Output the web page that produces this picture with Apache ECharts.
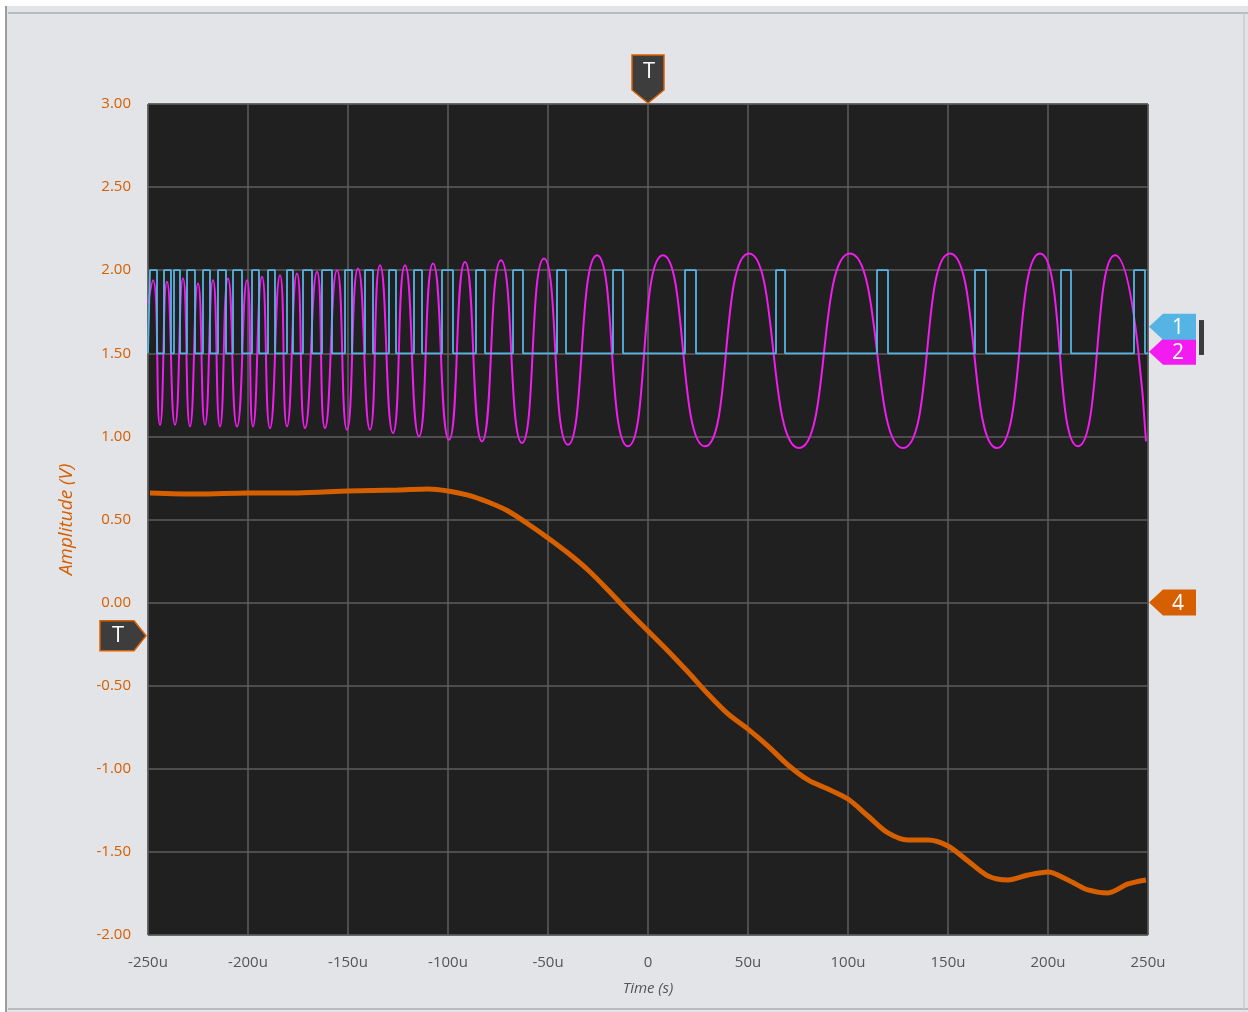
<!DOCTYPE html>
<html>
<head>
<meta charset="utf-8">
<script src="https://cdn.jsdelivr.net/npm/echarts@6/dist/echarts.min.js"></script>
<style>
html,body{margin:0;padding:0;background:#ffffff;}
#c{width:1248px;height:1012px;}
</style>
</head>
<body>
<div id="c"></div>
<script>
// ---- axis ticks ----
var xTicks = [-250, -200, -150, -100, -50, 0, 50, 100, 150, 200, 250];   // microseconds
var yTicks = [-2.0, -1.5, -1.0, -0.5, 0.0, 0.5, 1.0, 1.5, 2.0, 2.5, 3.0];

// ---- Channel 1 (cyan, digital): high pulses [start, end] in µs ----
var ch1Low = 1.5, ch1High = 2.0;
var ch1PulseStart = [-249, -242, -237, -230.5, -222.5, -215, -207.5, -198, -190, -180.5, -172.5, -163, -151.5, -141.5, -129.5, -117, -103, -86, -67.5, -45.5, -17.5, 18.5, 64, 114.5, 163.5, 206.5, 243];
var ch1PulseEnd   = [-245.5, -238.5, -234, -226.5, -219, -211, -203, -194.5, -186.5, -177.5, -168, -158, -148, -137.5, -126, -113, -97.5, -81.5, -62.5, -41, -12.5, 24, 68.5, 120, 169, 211.5, 248.5];

// ---- Channel 2 (magenta, chirp): extrema ----
var ch2PeakT = [-247.5, -240.5, -232.5, -225, -217.5, -210, -200.5, -193, -184, -175.5, -165.5, -155.5, -145, -134, -121.5, -107.5, -91.5, -73.5, -52, -25.5, 7.5, 50.5, 101, 151, 196, 233.5];
var ch2PeakV = [1.94, 1.93, 1.95, 1.92, 1.94, 1.95, 1.94, 1.96, 1.97, 1.98, 1.99, 2.00, 2.01, 2.03, 2.03, 2.04, 2.05, 2.06, 2.07, 2.09, 2.09, 2.10, 2.10, 2.10, 2.10, 2.09];
var ch2TroughT = [-244, -236.5, -229, -221.5, -214, -205.5, -197.5, -189, -180.5, -171.5, -161.5, -150.5, -139, -127.5, -114.5, -99.5, -83, -63, -40, -10, 28.5, 75.5, 127.5, 174.5, 215];
var ch2TroughV = [1.07, 1.07, 1.06, 1.07, 1.06, 1.06, 1.06, 1.05, 1.06, 1.05, 1.05, 1.04, 1.04, 1.02, 1.00, 0.98, 0.97, 0.96, 0.95, 0.94, 0.94, 0.93, 0.93, 0.93, 0.94];
var ch2Start = [-250, 1.80];
var ch2End = [249, 0.97];

// ---- Channel 4 (orange, analog) ----
var ch4T = [-249, -225, -200, -175, -150, -125, -110, -100, -90, -80, -70, -60, -50, -40, -30, -20, -10, 0, 10, 20, 30, 40, 50, 60, 70, 80, 90, 100, 110, 120, 130, 140, 150, 160, 170, 180, 190, 200, 210, 220, 230, 240, 249];
var ch4V = [0.66, 0.653, 0.66, 0.66, 0.672, 0.678, 0.684, 0.672, 0.647, 0.605, 0.551, 0.473, 0.389, 0.298, 0.196, 0.076, -0.051, -0.171, -0.291, -0.418, -0.55, -0.67, -0.761, -0.863, -0.977, -1.067, -1.122, -1.182, -1.284, -1.386, -1.428, -1.428, -1.464, -1.555, -1.645, -1.669, -1.639, -1.621, -1.669, -1.729, -1.747, -1.693, -1.669];

// ---- markers ----
var triggerTime = 0;
var triggerLevel = -0.2;
var chTagLabels = ['1', '2', '4'];
var chTagLevels = [1.66, 1.51, 0.0];
var chTagColors = ['#56b4e4', '#f21cf0', '#d65f00'];

var cyan = '#56b4e4', magenta = '#f21cf0', orange = '#d65f00';

// build series data from arrays
var ch1Data = [[-250, ch1Low]];
for (var i = 0; i < ch1PulseStart.length; i++) {
  ch1Data.push([ch1PulseStart[i], ch1Low], [ch1PulseStart[i], ch1High], [ch1PulseEnd[i], ch1High], [ch1PulseEnd[i], ch1Low]);
}
ch1Data.push([250, ch1Low]);

var ch2Data = [ch2Start];
ch2PeakT.forEach(function (t, k) { ch2Data.push([t, ch2PeakV[k]]); });
ch2TroughT.forEach(function (t, k) { ch2Data.push([t, ch2TroughV[k]]); });
ch2Data.push(ch2End);
ch2Data.sort(function (a, b) { return a[0] - b[0]; });

var ch4Data = ch4T.map(function (t, k) { return [t, ch4V[k]]; });

var font = '"Open Sans", "Noto Sans", sans-serif';
var chart = echarts.init(document.getElementById('c'), null, {renderer: 'canvas'});
chart.setOption({
  backgroundColor: '#e3e4e8',
  animation: false,
  grid: {left: 148, right: 100, top: 104, bottom: 77, show: true, backgroundColor: '#202020', borderColor: '#3a3a3a', borderWidth: 1},
  xAxis: {
    type: 'value', min: -250, max: 250, interval: 50,
    name: 'Time (s)', nameLocation: 'middle', nameGap: 46,
    nameTextStyle: {color: '#555', fontStyle: 'italic', fontSize: 15, fontFamily: font},
    axisLine: {show: false}, axisTick: {show: false},
    axisLabel: {color: '#555', fontSize: 15, fontFamily: font, margin: 20,
      formatter: function (v) { return v === 0 ? '0' : v + 'u'; }},
    splitLine: {show: true, lineStyle: {color: '#5c5c5c', width: 1.5}}
  },
  yAxis: {
    type: 'value', min: -2, max: 3, interval: 0.5,
    name: 'Amplitude (V)', nameLocation: 'middle', nameGap: 72,
    nameTextStyle: {color: orange, fontStyle: 'italic', fontSize: 19, fontFamily: font},
    axisLine: {show: false}, axisTick: {show: false},
    axisLabel: {color: orange, fontSize: 15, fontFamily: font, margin: 17,
      formatter: function (v) { return v.toFixed(2); }, verticalAlign: 'middle', padding: [4, 0, 0, 0]},
    splitLine: {show: true, lineStyle: {color: '#5c5c5c', width: 1.5}}
  },
  series: [
    {type: 'line', name: '4', data: ch4Data, symbol: 'none', smooth: 0.3,
     lineStyle: {color: orange, width: 5}, z: 2},
    {type: 'line', name: '2', data: ch2Data, symbol: 'none', smooth: 0.6,
     lineStyle: {color: magenta, width: 2}, z: 3},
    {type: 'line', name: '1', data: ch1Data, symbol: 'none',
     lineStyle: {color: cyan, width: 1.8}, z: 4}
  ]
});

// ---- annotation tags (positioned through the axes) ----
var g = [];
// frame
g.push({type: 'rect', shape: {x: 0, y: 0, width: 1248, height: 6}, style: {fill: '#ffffff'}, silent: true});
g.push({type: 'rect', shape: {x: 0, y: 0, width: 5, height: 1012}, style: {fill: '#ffffff'}, silent: true});
g.push({type: 'line', shape: {x1: 8, y1: 13, x2: 1248, y2: 13}, style: {stroke: '#b9bbbf', lineWidth: 2}, silent: true});
g.push({type: 'line', shape: {x1: 6, y1: 6, x2: 6, y2: 1012}, style: {stroke: '#9c9c94', lineWidth: 2}, silent: true});
g.push({type: 'line', shape: {x1: 8, y1: 1009, x2: 1248, y2: 1009}, style: {stroke: '#b9bbbf', lineWidth: 2}, silent: true});
g.push({type: 'line', shape: {x1: 1244, y1: 13, x2: 1244, y2: 1009}, style: {stroke: '#c9cbcf', lineWidth: 1.5}, silent: true});

var pTop = chart.convertToPixel({gridIndex: 0}, [triggerTime, 3]);
var tx = pTop[0], ty = pTop[1];
g.push({type: 'polygon', shape: {points: [[tx - 16, ty - 49], [tx + 16, ty - 49], [tx + 16, ty - 14], [tx, ty - 1], [tx - 16, ty - 14]]},
  style: {fill: '#3d3d3d', stroke: orange, lineWidth: 1.5}, z: 10});
g.push({type: 'text', x: tx + 1, y: ty - 32, style: {text: 'T', fill: '#ffffff', font: '22px ' + font, align: 'center', verticalAlign: 'middle'}, z: 11});

var pLeft = chart.convertToPixel({gridIndex: 0}, [-250, triggerLevel]);
var lx = pLeft[0], ly = pLeft[1];
g.push({type: 'polygon', shape: {points: [[lx - 48, ly - 15], [lx - 14, ly - 15], [lx - 2, ly], [lx - 14, ly + 15], [lx - 48, ly + 15]]},
  style: {fill: '#3d3d3d', stroke: orange, lineWidth: 1.5}, z: 10});
g.push({type: 'text', x: lx - 30, y: ly, style: {text: 'T', fill: '#ffffff', font: '22px ' + font, align: 'center', verticalAlign: 'middle'}, z: 11});

chTagLabels.forEach(function (lab, k) {
  var p = chart.convertToPixel({gridIndex: 0}, [250, chTagLevels[k]]);
  var x0 = p[0] + 1, y0 = p[1];
  var h = 13;
  g.push({type: 'polygon', shape: {points: [[x0, y0], [x0 + 14, y0 - h], [x0 + 47, y0 - h], [x0 + 47, y0 + h], [x0 + 14, y0 + h]]},
    style: {fill: chTagColors[k]}, z: 10 + (k === 0 ? 2 : 0)});
  g.push({type: 'text', x: x0 + 29, y: y0 + 1, style: {text: lab, fill: '#ffffff', font: '21px ' + font, align: 'center', verticalAlign: 'middle'}, z: 13});
});
var pb1 = chart.convertToPixel({gridIndex: 0}, [250, 1.70]);
var pb2 = chart.convertToPixel({gridIndex: 0}, [250, 1.49]);
g.push({type: 'rect', shape: {x: pb1[0] + 51, y: pb1[1], width: 5, height: pb2[1] - pb1[1]}, style: {fill: '#3c3c3c'}, z: 10});

chart.setOption({graphic: g});
</script>
</body>
</html>
